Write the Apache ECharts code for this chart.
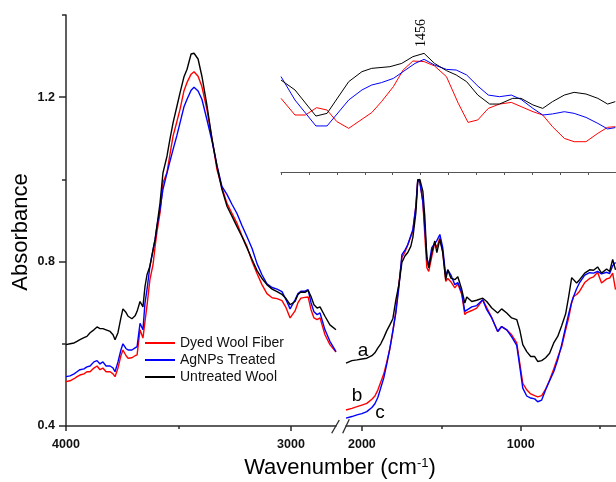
<!DOCTYPE html>
<html><head><meta charset="utf-8">
<script src="https://cdn.jsdelivr.net/npm/echarts@6/dist/echarts.min.js"></script>
<style>html,body{margin:0;padding:0;background:#fff}#c{width:616px;height:482px}</style>
</head><body><div id="c"></div>
<script>
// ---- Left segment (4000-2800 cm-1) ----
const leftWn = [4000,3982,3964,3951,3938,3920,3907,3893,3876,3862,3849,3836,3822,3804,3791,3782,3769,3756,3747,3733,3724,3707,3693,3684,3671,3658,3649,3640,3627,3613,3604,3596,3582,3569,3551,3538,3524,3507,3493,3476,3462,3444,3431,3413,3396,3373,3351,3329,3307,3284,3262,3240,3218,3196,3173,3151,3129,3107,3084,3062,3040,3022,3004,2982,2969,2956,2938,2924,2911,2898,2884,2871,2849,2827,2800];
const leftDyed = [0.508,0.510,0.515,0.520,0.524,0.527,0.532,0.532,0.541,0.546,0.537,0.541,0.532,0.532,0.527,0.520,0.541,0.571,0.585,0.571,0.565,0.566,0.571,0.573,0.634,0.614,0.654,0.693,0.756,0.793,0.837,0.871,0.919,0.992,1.017,1.061,1.106,1.141,1.171,1.215,1.236,1.256,1.262,1.251,1.226,1.168,1.098,1.024,0.980,0.941,0.917,0.893,0.863,0.837,0.800,0.771,0.744,0.722,0.712,0.710,0.705,0.688,0.663,0.680,0.700,0.711,0.713,0.714,0.683,0.663,0.659,0.663,0.622,0.598,0.580];
const leftAg = [0.520,0.522,0.527,0.532,0.537,0.539,0.544,0.546,0.556,0.559,0.551,0.556,0.546,0.546,0.541,0.532,0.556,0.585,0.600,0.588,0.585,0.585,0.590,0.593,0.650,0.634,0.699,0.732,0.789,0.829,0.854,0.886,0.927,0.976,1.016,1.044,1.073,1.107,1.138,1.176,1.195,1.217,1.224,1.215,1.195,1.144,1.093,1.034,0.983,0.963,0.939,0.917,0.888,0.861,0.832,0.795,0.768,0.746,0.737,0.733,0.727,0.707,0.685,0.707,0.722,0.728,0.728,0.732,0.700,0.678,0.671,0.675,0.634,0.606,0.581];
const leftUn = [0.598,0.600,0.602,0.606,0.610,0.615,0.618,0.627,0.634,0.641,0.637,0.637,0.634,0.630,0.622,0.610,0.627,0.663,0.685,0.676,0.667,0.661,0.668,0.679,0.703,0.690,0.739,0.768,0.789,0.829,0.854,0.886,0.943,1.016,1.057,1.098,1.138,1.178,1.211,1.249,1.268,1.305,1.307,1.293,1.251,1.178,1.098,1.032,0.976,0.934,0.910,0.885,0.861,0.834,0.805,0.778,0.759,0.744,0.733,0.727,0.720,0.710,0.695,0.703,0.720,0.726,0.725,0.730,0.715,0.695,0.687,0.690,0.667,0.646,0.634];

// ---- Right segment (2100-400 cm-1) ----
const rightWn = [2100,2063,2031,2000,1969,1937,1918,1899,1881,1862,1843,1824,1805,1786,1767,1748,1730,1711,1692,1679,1660,1648,1635,1616,1604,1591,1579,1560,1541,1528,1509,1491,1472,1459,1440,1415,1396,1371,1352,1340,1308,1277,1239,1214,1182,1145,1120,1088,1057,1025,1006,987,962,937,912,893,868,843,818,792,767,742,717,698,679,667,648,629,597,566,541,516,491,459,440,421,403];
const rightDyed = [0.439,0.443,0.447,0.451,0.455,0.465,0.473,0.488,0.507,0.527,0.556,0.588,0.629,0.680,0.746,0.810,0.822,0.841,0.861,0.874,0.935,1.000,0.995,0.944,0.866,0.785,0.776,0.812,0.846,0.834,0.858,0.825,0.752,0.759,0.751,0.736,0.746,0.720,0.671,0.676,0.681,0.687,0.707,0.688,0.663,0.630,0.642,0.634,0.622,0.602,0.553,0.504,0.488,0.478,0.474,0.471,0.474,0.490,0.512,0.539,0.567,0.593,0.634,0.663,0.700,0.715,0.720,0.728,0.749,0.759,0.763,0.774,0.748,0.758,0.760,0.772,0.732];
const rightAg = [0.419,0.423,0.427,0.430,0.435,0.445,0.454,0.470,0.493,0.517,0.551,0.588,0.632,0.676,0.737,0.817,0.827,0.841,0.863,0.878,0.935,1.000,0.993,0.946,0.883,0.810,0.789,0.834,0.844,0.851,0.866,0.834,0.764,0.780,0.768,0.744,0.749,0.724,0.679,0.683,0.690,0.693,0.707,0.683,0.663,0.630,0.642,0.634,0.617,0.596,0.545,0.492,0.473,0.468,0.466,0.459,0.463,0.488,0.510,0.532,0.561,0.598,0.641,0.673,0.702,0.715,0.734,0.749,0.767,0.773,0.772,0.776,0.770,0.774,0.771,0.790,0.798];
const rightUn = [0.553,0.559,0.561,0.563,0.565,0.571,0.578,0.590,0.600,0.615,0.632,0.646,0.661,0.707,0.744,0.798,0.813,0.822,0.837,0.859,0.919,0.998,1.000,0.971,0.910,0.810,0.785,0.822,0.850,0.822,0.854,0.822,0.756,0.780,0.760,0.756,0.763,0.732,0.699,0.714,0.703,0.706,0.711,0.703,0.687,0.675,0.685,0.675,0.663,0.659,0.634,0.598,0.581,0.569,0.569,0.557,0.559,0.566,0.577,0.602,0.618,0.644,0.673,0.715,0.761,0.763,0.748,0.756,0.772,0.780,0.779,0.787,0.772,0.782,0.776,0.805,0.780];

// ---- Inset (1476-1428 cm-1, relative units) ----
const insetWnUn = [1476.0,1474.0,1471.0,1469.4,1466.3,1464.4,1463.0,1460.4,1458.7,1457.1,1455.5,1454.0,1452.3,1450.9,1449.4,1447.8,1446.1,1444.7,1442.8,1441.6,1439.9,1438.5,1437.1,1435.4,1434.0,1432.3,1430.6,1429.2,1428.1];
const insetUn = [0.613,0.547,0.373,0.391,0.602,0.669,0.691,0.702,0.724,0.769,0.791,0.724,0.676,0.647,0.602,0.513,0.453,0.453,0.491,0.491,0.447,0.424,0.469,0.513,0.531,0.520,0.491,0.453,0.469];
const insetWnAg = [1476.0,1474.0,1471.0,1469.4,1466.3,1464.4,1463.0,1461.6,1459.9,1458.5,1456.8,1455.5,1454.0,1452.3,1450.9,1449.4,1447.8,1446.3,1444.7,1443.0,1441.6,1439.9,1438.5,1437.1,1435.4,1434.0,1432.3,1430.6,1429.2,1428.1];
const insetAg = [0.636,0.480,0.307,0.307,0.480,0.547,0.580,0.596,0.624,0.669,0.724,0.751,0.713,0.684,0.680,0.647,0.573,0.513,0.502,0.513,0.484,0.424,0.380,0.387,0.402,0.391,0.364,0.324,0.287,0.296];
const insetWnDyed = [1476.0,1474.0,1472.5,1470.9,1469.4,1468.0,1466.3,1464.7,1463.0,1461.6,1459.9,1458.5,1457.1,1455.5,1454.0,1452.3,1450.6,1449.2,1447.8,1446.3,1444.7,1443.0,1441.6,1439.9,1438.5,1437.1,1435.4,1434.0,1432.3,1430.6,1429.2,1428.1];
const insetDyed = [0.491,0.380,0.380,0.429,0.413,0.336,0.291,0.342,0.396,0.469,0.569,0.680,0.740,0.736,0.707,0.636,0.458,0.331,0.347,0.424,0.453,0.464,0.436,0.402,0.380,0.302,0.224,0.202,0.202,0.258,0.298,0.302];

const names = ['Dyed Wool Fiber','AgNPs Treated','Untreated Wool'];
const colors = ['#ff0000','#0000ff','#000000'];
const yTickMajor = [0.4,0.8,1.2];
const yTickMinor = [0.6,1.0,1.4];
const leftTicksMajor = [4000,3000], leftTicksMinor = [3500];
const rightTicksMajor = [2000,1000], rightTicksMinor = [1500,500];

const FONT = 'Arial, "Liberation Sans", sans-serif';
const AX = '#2a2a2a';
const pairs = (x,y) => x.map((v,i)=>[v,y[i]]);

const chart = echarts.init(document.getElementById('c'));
const lineAx = {show:true, lineStyle:{color:AX,width:1.5}};
const lbl = {fontFamily:FONT,fontWeight:'bold',fontSize:12.5,color:'#111'};

function mkLine(name, color, xi, yi, data, w){
  return {type:'line',name,xAxisIndex:xi,yAxisIndex:yi,data,symbol:'none',
    lineStyle:{color,width:w},itemStyle:{color},animation:false,silent:true};
}

const series = [];
const leftSets=[leftDyed,leftAg,leftUn], rightSets=[rightDyed,rightAg,rightUn];
const insetSets=[[insetWnDyed,insetDyed],[insetWnAg,insetAg],[insetWnUn,insetUn]];
for(let i=0;i<3;i++){
  series.push(mkLine(names[i],colors[i],0,0,pairs(leftWn,leftSets[i]),1.4));
  series.push(mkLine(names[i],colors[i],1,2,pairs(rightWn,rightSets[i]),1.4));
  series.push(mkLine(names[i],colors[i],2,3,pairs(insetSets[i][0],insetSets[i][1]),1));
}

chart.setOption({
  animation:false,
  backgroundColor:'#fff',
  grid:[
    {left:66,right:280,top:15,bottom:56},
    {left:346,right:0,top:15,bottom:56},
    {left:281,right:0,top:22,bottom:310}
  ],
  xAxis:[
    {gridIndex:0,type:'value',position:'bottom',min:2800,max:4000,inverse:true,axisLine:lineAx,
     axisTick:{show:true,customValues:leftTicksMajor,length:5,lineStyle:{color:AX,width:1.5}},
     axisLabel:Object.assign({customValues:leftTicksMajor,margin:12,formatter:v=>String(v)},lbl),splitLine:{show:false}},
    {gridIndex:1,type:'value',position:'bottom',min:400,max:2100,inverse:true,axisLine:lineAx,
     axisTick:{show:true,customValues:rightTicksMajor,length:5,lineStyle:{color:AX,width:1.5}},
     axisLabel:Object.assign({customValues:rightTicksMajor,margin:12,formatter:v=>String(v)},lbl),splitLine:{show:false}},
    {gridIndex:2,type:'value',position:'bottom',min:1428,max:1476,interval:4,inverse:true,
     axisLine:{show:true,lineStyle:{color:'#555',width:1}},
     axisTick:{show:true,length:3,lineStyle:{color:'#555',width:1}},
     axisLabel:{show:false},splitLine:{show:false}},
    {gridIndex:0,type:'value',position:'bottom',min:2800,max:4000,inverse:true,axisLine:{show:false},
     axisTick:{show:true,customValues:leftTicksMinor,length:3,lineStyle:{color:AX,width:1.5}},
     axisLabel:{show:false},splitLine:{show:false}},
    {gridIndex:1,type:'value',position:'bottom',min:400,max:2100,inverse:true,axisLine:{show:false},
     axisTick:{show:true,customValues:rightTicksMinor,length:3,lineStyle:{color:AX,width:1.5}},
     axisLabel:{show:false},splitLine:{show:false}}
  ],
  yAxis:[
    {gridIndex:0,type:'value',min:0.4,max:1.4,position:'left',axisLine:lineAx,
     axisTick:{show:true,customValues:yTickMajor,length:7,lineStyle:{color:AX,width:1.5}},
     axisLabel:Object.assign({customValues:yTickMajor,margin:11,formatter:v=>v.toFixed(1)},lbl),splitLine:{show:false}},
    {gridIndex:0,type:'value',min:0.4,max:1.4,position:'left',axisLine:{show:false},
     axisTick:{show:true,customValues:yTickMinor,length:4,lineStyle:{color:AX,width:1.5}},
     axisLabel:{show:false},splitLine:{show:false}},
    {gridIndex:1,type:'value',min:0.4,max:1.4,show:false},
    {gridIndex:2,type:'value',min:0,max:1,show:false}
  ],
  legend:{
    data:names, orient:'vertical', left:145, top:336, padding:0,
    icon:'rect', itemWidth:30, itemHeight:2, itemGap:3,
    textStyle:{fontFamily:FONT,fontSize:14,color:'#111',lineHeight:14,padding:[0,0,0,0]},
    selectedMode:false
  },
  series,
  graphic:[
    {type:'text',x:21,y:232,rotation:Math.PI/2,style:{text:'Absorbance',font:'22px '+FONT,fill:'#000',align:'center',verticalAlign:'middle'}},
    {type:'text',x:340,y:468,style:{text:'{a|Wavenumber (cm}{s|-1}{a|)}',align:'center',verticalAlign:'middle',
      rich:{a:{fontFamily:FONT,fontSize:22,fill:'#000'},s:{fontFamily:FONT,fontSize:13,fill:'#000',verticalAlign:'top',padding:[0,0,10,0]}}}},
    {type:'text',x:421,y:33,rotation:Math.PI/2,style:{text:'1456',font:'14px "Liberation Serif", "Times New Roman", serif',fill:'#000',align:'center',verticalAlign:'middle'}},
    {type:'text',x:363,y:351,style:{text:'a',font:'19px '+FONT,fill:'#000',align:'center',verticalAlign:'middle'}},
    {type:'text',x:357,y:396,style:{text:'b',font:'19px '+FONT,fill:'#000',align:'center',verticalAlign:'middle'}},
    {type:'text',x:380,y:413,style:{text:'c',font:'19px '+FONT,fill:'#000',align:'center',verticalAlign:'middle'}},
    {type:'line',shape:{x1:331.7,y1:433.3,x2:339.3,y2:420},style:{stroke:AX,lineWidth:1.3}},
    {type:'line',shape:{x1:342.7,y1:433.3,x2:349.3,y2:419.3},style:{stroke:AX,lineWidth:1.3}}
  ]
});
</script></body></html>
